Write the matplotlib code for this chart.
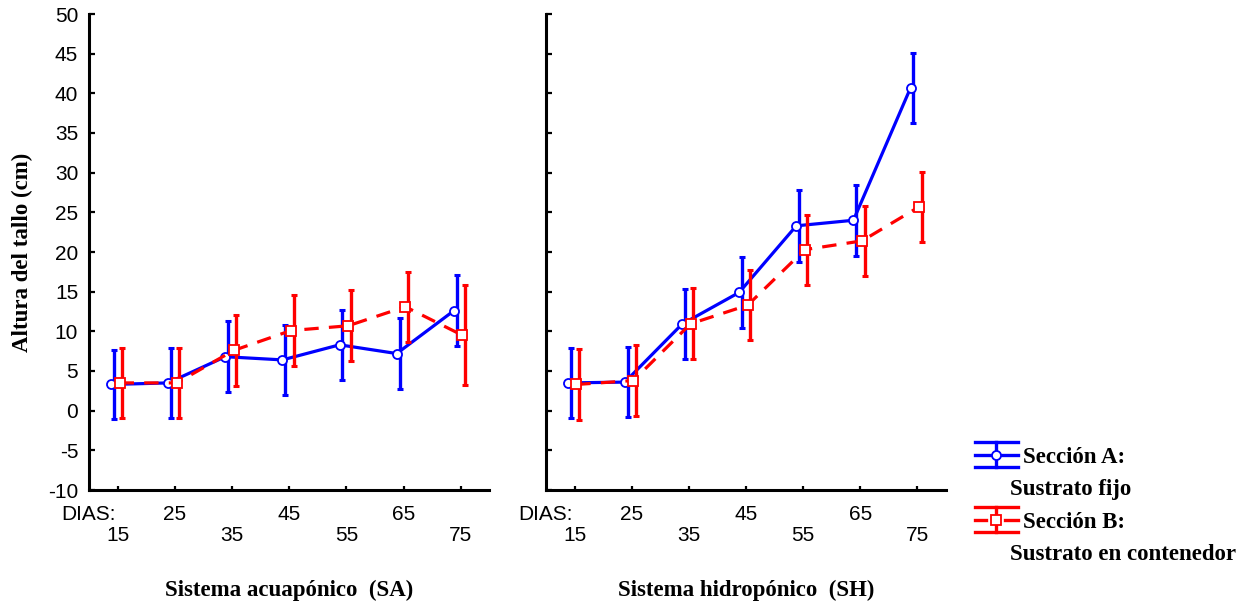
import matplotlib
matplotlib.use("Agg")
import matplotlib.pyplot as plt
from matplotlib.lines import Line2D

plt.rcParams["axes.unicode_minus"] = False

# ---- data ----
days = [15, 25, 35, 45, 55, 65, 75]
row1_days = [25, 45, 65]
row2_days = [15, 35, 55, 75]

sa_a_mean = [3.3, 3.5, 6.8, 6.4, 8.3, 7.2, 12.6]
sa_a_err = [4.4, 4.4, 4.45, 4.45, 4.45, 4.45, 4.45]
sa_b_mean = [3.5, 3.5, 7.6, 10.1, 10.7, 13.1, 9.5]
sa_b_err = [4.45, 4.45, 4.45, 4.45, 4.45, 4.4, 6.3]

sh_a_mean = [3.5, 3.6, 10.9, 14.9, 23.3, 24.0, 40.7]
sh_a_err = [4.4, 4.45, 4.45, 4.45, 4.5, 4.45, 4.4]
sh_b_mean = [3.3, 3.8, 10.95, 13.3, 20.3, 21.4, 25.7]
sh_b_err = [4.45, 4.45, 4.45, 4.45, 4.4, 4.45, 4.4]

panel_titles = ["Sistema acuapónico  (SA)", "Sistema hidropónico  (SH)"]
legend_labels = [("Sección A:", "Sustrato fijo"), ("Sección B:", "Sustrato en contenedor")]
ylabel = "Altura del tallo (cm)"

BLUE = "#0000ff"
RED = "#ff0000"
SANS = "Liberation Sans"
SERIF = "Liberation Serif"
TICK_FS = 15
SERIF_FS = 16.5

W, H = 1246, 604
fig = plt.figure(figsize=(W / 100, H / 100), dpi=100)

left_px = [89.3, 546.0]
top_px, bot_px = 14.0, 490.0
width_px = 400.0

# offsets (in days) of error bars and of the plotted points
bar_off_a, bar_off_b = -0.7, 0.75
pt_off_a, pt_off_b = -1.2, 0.3

panels = [(sa_a_mean, sa_a_err, sa_b_mean, sa_b_err),
          (sh_a_mean, sh_a_err, sh_b_mean, sh_b_err)]

for i, (am, ae, bm, be) in enumerate(panels):
    ax = fig.add_axes([left_px[i] / W, 1 - bot_px / H, width_px / W, (bot_px - top_px) / H])
    ax.errorbar([d + bar_off_a for d in days], am, yerr=ae, fmt="none", ecolor=BLUE,
                elinewidth=2.4, capsize=2.2, capthick=2.2, zorder=2)
    ax.plot([d + pt_off_a for d in days], am, color=BLUE, lw=2.3, ls="-", marker="o",
            ms=6.5, mfc="white", mec=BLUE, mew=1.3, zorder=3)
    ax.errorbar([d + bar_off_b for d in days], bm, yerr=be, fmt="none", ecolor=RED,
                elinewidth=2.4, capsize=2.2, capthick=2.2, zorder=4)
    ax.plot([d + pt_off_b for d in days], bm, color=RED, lw=2.3, ls=(0, (4.5, 3.2)),
            marker="s", ms=6.5, mfc="white", mec=RED, mew=1.3, zorder=5)
    ax.set_xlim(10, 80)
    ax.set_ylim(-10, 50)
    ax.set_yticks(range(-10, 51, 5))
    ax.set_xticks(row1_days)
    ax.set_xticklabels([str(d) for d in row1_days], fontfamily=SANS, fontsize=TICK_FS)
    ax.set_xticks(row2_days, minor=True)
    ax.set_xticklabels([str(d) for d in row2_days], minor=True, fontfamily=SANS,
                       fontsize=TICK_FS)
    for sp in ["top", "right"]:
        ax.spines[sp].set_visible(False)
    for sp in ["left", "bottom"]:
        ax.spines[sp].set_linewidth(2.2)
    ax.tick_params(axis="y", direction="in", length=4.5, width=1.6, pad=8)
    ax.tick_params(axis="x", which="major", direction="in", length=2.8, width=1.6, pad=10.5)
    ax.tick_params(axis="x", which="minor", direction="in", length=2.8, width=1.6, pad=26.0)
    if i == 0:
        for t in ax.get_yticklabels():
            t.set_fontfamily(SANS)
            t.set_fontsize(TICK_FS)
        ax.set_ylabel(ylabel, fontfamily=SERIF, fontweight="bold", fontsize=SERIF_FS,
                      va="center")
        ax.yaxis.set_label_coords((22 - left_px[0]) / width_px, 0.5)
    else:
        ax.set_yticklabels([])
    ax.annotate("DIAS:", xy=(14.65, 0), xycoords=("data", "axes fraction"),
                xytext=(0, -10.5), textcoords="offset points", ha="right", va="top",
                fontfamily=SANS, fontsize=TICK_FS)
    ax.set_xlabel(panel_titles[i], fontfamily=SERIF, fontweight="bold", fontsize=SERIF_FS,
                  va="center")
    ax.xaxis.set_label_coords(0.5, (bot_px - 590) / (bot_px - top_px))

# ---- legend (manual) ----
lax = fig.add_axes([0, 0, 1, 1])
lax.set_xlim(0, W)
lax.set_ylim(H, 0)
lax.axis("off")

def legend_symbol(y_mid, color, dashed, marker):
    x0, x1, xm = 975, 1018, 996
    for yy in (y_mid - 12.8, y_mid + 12.8):
        lax.add_line(Line2D([x0, x1], [yy, yy], color=color, lw=2.4))
    lax.add_line(Line2D([xm, xm], [y_mid - 12.8, y_mid + 12.8], color=color, lw=2.4))
    if dashed:
        lax.add_line(Line2D([x0, 986], [y_mid, y_mid], color=color, lw=2.4))
        lax.add_line(Line2D([1005, x1], [y_mid, y_mid], color=color, lw=2.4))
    else:
        lax.add_line(Line2D([x0, x1], [y_mid, y_mid], color=color, lw=2.4))
    lax.plot([xm], [y_mid], marker=marker, ms=6.5, mfc="white", mec=color, mew=1.3,
             ls="none")

legend_symbol(454.5, BLUE, False, "o")
legend_symbol(519.5, RED, True, "s")

kw = dict(fontfamily=SERIF, fontweight="bold", fontsize=SERIF_FS, va="center", ha="left")
lax.text(1023, 457.7, legend_labels[0][0], **kw)
lax.text(1010, 490, legend_labels[0][1], **kw)
lax.text(1023, 522.3, legend_labels[1][0], **kw)
lax.text(1010, 555, legend_labels[1][1], **kw)

fig.savefig("out.png", dpi=100)
